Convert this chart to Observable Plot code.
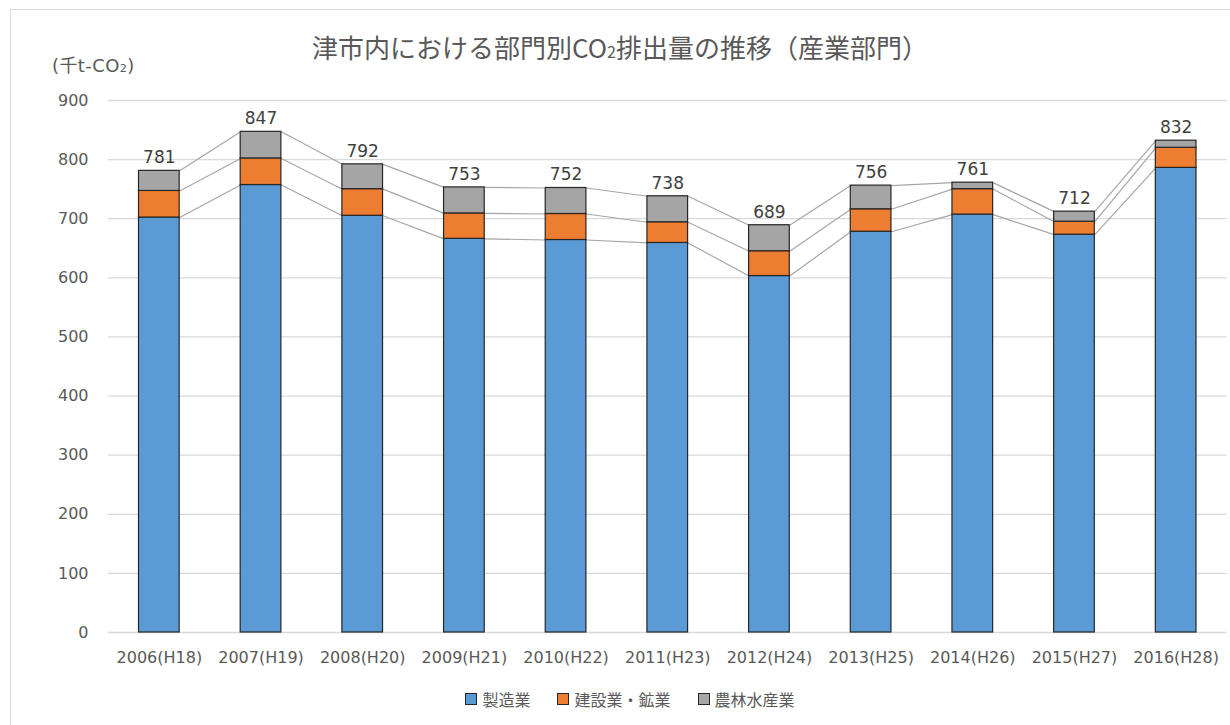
<!DOCTYPE html>
<html>
<head>
<meta charset="utf-8">
<script src="https://cdn.jsdelivr.net/npm/d3@7"></script>
<script src="https://cdn.jsdelivr.net/npm/@observablehq/plot@0.6"></script>
<style>
  body { margin: 0; background: #fff; font-family: "DejaVu Sans", "Noto Sans CJK JP", sans-serif; }
  #wrap { position: relative; width: 1230px; height: 725px; overflow: hidden; background: #fff; }
  #frame { position: absolute; left: 10px; top: 9px; width: 1300px; height: 800px; border: 1px solid #d9d9d9; }
  #chart { position: absolute; left: 0; top: 0; }
  #title { position: absolute; left: 0; width: 1240px; top: 30px; text-align: center; font-size: 26px; line-height: 34px; color: #595959; font-family: "Noto Sans CJK JP", sans-serif; white-space: nowrap; }
  #unit { position: absolute; left: 52px; top: 54px; font-size: 18px; line-height: 24px; letter-spacing: 0.4px; color: #595959; font-family: "DejaVu Sans", "Noto Sans CJK JP", sans-serif; white-space: nowrap; }
  .sub { font-size: 0.62em; }
  #legend { position: absolute; top: 688px; left: 0; width: 1230px; display: flex; justify-content: center; gap: 27px; font-size: 16px; line-height: 22px; color: #595959; font-family: "Noto Sans CJK JP", sans-serif; padding-left: 30px; box-sizing: border-box; }
  .item { display: flex; align-items: center; gap: 5px; }
  .sw { width: 10px; height: 10px; border: 1px solid #262626; display: inline-block; }
</style>
</head>
<body>
<div id="wrap">
  <div id="frame"></div>
  <div id="chart"></div>
  <div id="title">津市内における部門別CO<span class="sub">2</span>排出量の推移（産業部門）</div>
  <div id="unit">(千t-CO<span class="sub">2</span>)</div>
  <div id="legend"></div>
</div>
<script>
const years = ["2006(H18)", "2007(H19)", "2008(H20)", "2009(H21)", "2010(H22)", "2011(H23)", "2012(H24)", "2013(H25)", "2014(H26)", "2015(H27)", "2016(H28)"];
const seriesNames = ["製造業", "建設業・鉱業", "農林水産業"];
const manufacturing = [702, 757, 705, 666, 664, 659, 603, 678, 707, 673, 786];
const construction = [45, 45, 45, 43, 44, 35, 42, 38, 43, 22, 34];
const agriculture = [34, 45, 42, 44, 44, 44, 44, 40, 11, 17, 12];
const totals = [781, 847, 792, 753, 752, 738, 689, 756, 761, 712, 832];
const yTicks = [0, 100, 200, 300, 400, 500, 600, 700, 800, 900];
const colors = ["#5B9BD5", "#ED7D31", "#A5A5A5"];

const seriesValues = [manufacturing, construction, agriculture];
const half = 0.2;

// stacked segments
const segments = [];
const tops = seriesValues.map(() => []);
years.forEach((yr, i) => {
  let cum = 0;
  seriesValues.forEach((vals, k) => {
    segments.push({i, series: seriesNames[k], y1: cum, y2: cum + vals[i]});
    cum += vals[i];
    tops[k][i] = cum;
  });
});

// series connector lines
const links = [];
tops.forEach((t, k) => {
  for (let i = 0; i < years.length - 1; i++) {
    links.push({x1: i + half, x2: i + 1 - half, y1: t[i], y2: t[i + 1]});
  }
});

const labels = totals.map((v, i) => ({i, v}));

const chart = Plot.plot({
  width: 1230,
  height: 725,
  marginTop: 100,
  marginBottom: 93,
  marginLeft: 108,
  marginRight: 3.5,
  style: {background: "transparent", fontFamily: "'DejaVu Sans', 'Noto Sans CJK JP', sans-serif"},
  x: {type: "linear", domain: [-0.5, years.length - 0.5]},
  y: {domain: [0, 900]},
  color: {domain: seriesNames, range: colors},
  marks: [
    Plot.gridY(yTicks, {stroke: "#d9d9d9", strokeOpacity: 1, strokeWidth: 1.3}),
    Plot.axisY({ticks: yTicks, tickSize: 0, tickPadding: 20, fontSize: 16, fill: "#595959", label: null}),
    Plot.axisX({ticks: d3.range(years.length), tickFormat: i => years[i], tickSize: 0, tickPadding: 19, fontSize: 16, fill: "#595959", label: null}),
    Plot.link(links, {x1: "x1", x2: "x2", y1: "y1", y2: "y2", stroke: "#a6a6a6", strokeWidth: 1.2}),
    Plot.rect(segments, {x1: d => d.i - half, x2: d => d.i + half, y1: "y1", y2: "y2", fill: "series", stroke: "#262626", strokeWidth: 1.2}),
    Plot.text(labels, {x: "i", y: "v", text: d => String(d.v), dy: -13, fontSize: 17, fill: "#404040"})
  ]
});
document.getElementById("chart").appendChild(chart);

const legend = document.getElementById("legend");
seriesNames.forEach((name, k) => {
  const item = document.createElement("div");
  item.className = "item";
  const sw = document.createElement("span");
  sw.className = "sw";
  sw.style.background = colors[k];
  const tx = document.createElement("span");
  tx.textContent = name;
  item.appendChild(sw);
  item.appendChild(tx);
  legend.appendChild(item);
});
</script>
</body>
</html>
